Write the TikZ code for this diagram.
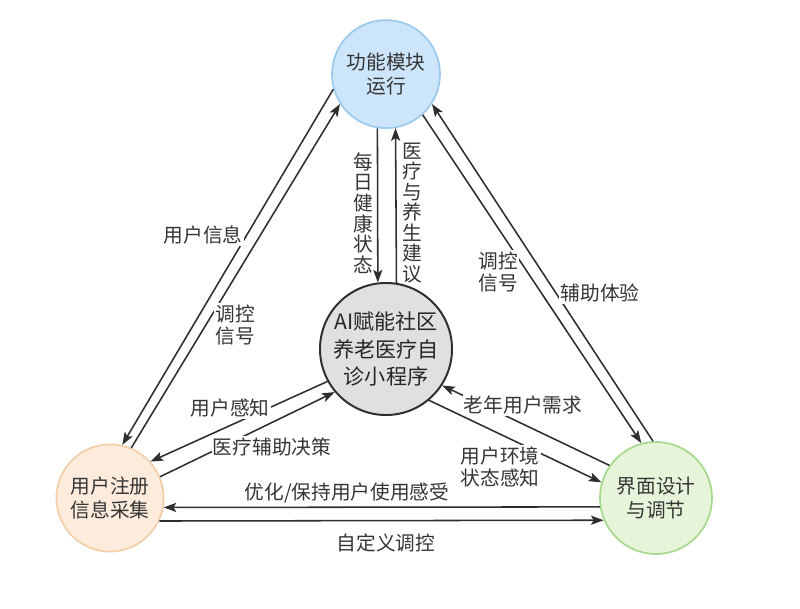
\documentclass[tikz,border=0pt]{standalone}
\usepackage{fontspec}
\newfontfamily\cjk{Noto Sans CJK SC}
\usepackage{tikz}
\usetikzlibrary{positioning,arrows.meta}
\definecolor{lineGray}{HTML}{2E2E2E}
\definecolor{textGray}{HTML}{353535}
\definecolor{funcFill}{HTML}{CCE5FA}
\definecolor{funcDraw}{HTML}{99CAEE}
\definecolor{userFill}{HTML}{FDEBDC}
\definecolor{userDraw}{HTML}{F2CDA5}
\definecolor{uiFill}{HTML}{E6F5DA}
\definecolor{uiDraw}{HTML}{A6D98C}
\definecolor{appFill}{HTML}{E0E0E0}
\tikzset{
  sys module/.style={circle, draw, line width=1.2pt, align=center, inner sep=0pt, text=textGray, font=\cjk\fontsize{14}{16.5}\selectfont},
  sys core/.style={circle, draw=lineGray, fill=appFill, line width=1.4pt, align=center, inner sep=0pt, minimum size=3.3cm, text=black!85, font=\cjk\fontsize{15}{19.5}\selectfont},
  sys flow/.style={draw=lineGray, line width=1.1pt, -{Stealth[length=9pt,width=6.5pt,inset=2pt]}},
  sys label/.style={fill=white, inner sep=1pt, align=center, text=textGray, font=\cjk\fontsize{14}{16}\selectfont},
  sys vlabel/.style={inner sep=0pt, align=center, text=textGray, font=\cjk\fontsize{14}{14.6}\selectfont}
}

\begin{document}
\begin{tikzpicture}[x=0.025cm, y=-0.025cm]
    \useasboundingbox (0,0) rectangle (800,609);
    % Core
    \node [sys core] (App) at (386,349) {AI赋能社区\\养老医疗自\\诊小程序};

    % Modules
    \node [sys module, fill=funcFill, draw=funcDraw, minimum size=2.7cm, above=3.825cm of App] (Func) {功能模块\\运行};
    \node [sys module, fill=userFill, draw=userDraw, minimum size=2.68cm] (User) at (110,498) {用户注册\\信息采集};
    \node [sys module, fill=uiFill, draw=uiDraw, minimum size=2.8cm] (Ui) at (656,498) {界面设计\\与调节};

    % Connections
    \draw [sys flow] (Func.261.5) -- (App.97);
    \draw [sys flow] (App.81.3) -- (Func.280.7);
    \draw [sys flow] (Func.196.8) -- (User.77.9);
    \draw [sys flow] (User.67.5) -- (Func.213.7);
    \draw [sys flow] (Func.312) -- (Ui.105.9);
    \draw [sys flow] (Ui.93.1) -- (Func.327.9);
    \draw [sys flow] (App.209.2) -- (User.42);
    \draw [sys flow] (User.23.6) -- (App.220.8);
    \draw [sys flow] (Ui.145.5) -- (App.327);
    \draw [sys flow] (App.310.8) -- (Ui.164.1);
    \draw [sys flow] (Ui.189.2) -- (User.350.3);
    \draw [sys flow] (User.335.7) -- (Ui.203.1);

    % Labels
    \node [sys vlabel] (lbDaily) at (363,213) {每\\日\\健\\康\\状\\态};
    \node [sys vlabel] (lbAdvice) at (412,213) {医\\疗\\与\\养\\生\\建\\议};
    \node [sys label] (lbInfo) at (203,235) {用户信息};
    \node [sys label] (lbCtrlL) at (235,325) {调控\\信号};
    \node [sys label] (lbCtrlR) at (498,272) {调控\\信号};
    \node [sys label] (lbAssist) at (600,293) {辅助体验};
    \node [sys label] (lbSense) at (230,408) {用户感知};
    \node [sys label] (lbDecide) at (272,447) {医疗辅助决策};
    \node [sys label] (lbNeed) at (523,405) {老年用户需求};
    \node [sys label] (lbEnv) at (500,467) {用户环境\\状态感知};
    \node [sys label] (lbKeep) at (347,493) {优化/保持用户使用感受};
    \node [sys label] (lbCustom) at (386,543) {自定义调控};
\end{tikzpicture}
\end{document}
